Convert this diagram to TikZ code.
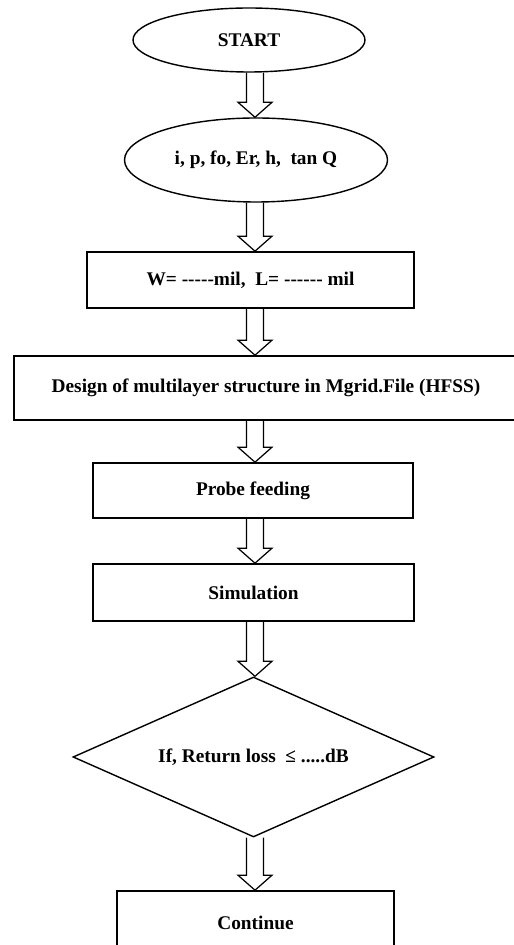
\documentclass[tikz,border=0pt]{standalone}
\usepackage{fontspec}
\setmainfont{Liberation Serif}
\usetikzlibrary{shapes,calc}

\newcommand{\hollowarrow}[2]{%
\draw[arrowline] let \p1=(#1.south), \p2=(#2.north) in
 (4.93,\y1) -- (4.93,\y2+0.3cm) -- (4.76,\y2+0.3cm) -- (5.1,\y2) -- (5.44,\y2+0.3cm) -- (5.27,\y2+0.3cm) -- (5.27,\y1);}

\begin{document}
\begin{tikzpicture}[
 every node/.style={font=\bfseries\fontsize{11}{13}\selectfont},
 boxnode/.style={draw,line width=0.9pt,rectangle,inner sep=0pt},
 ovalnode/.style={draw,line width=0.8pt,ellipse,inner sep=0pt},
 decisionnode/.style={draw,line width=0.8pt,diamond,shape aspect=2.25,inner sep=0pt},
 arrowline/.style={line width=0.7pt,line join=miter}]
\useasboundingbox (0,0) rectangle (10.28,18.9);
\node[ovalnode,minimum width=4.64cm,minimum height=1.28cm] (start) at (4.98,18.1) {START};
\node[ovalnode,minimum width=5.26cm,minimum height=1.68cm] (params) at (5.12,15.7) {i, p, fo, Er, h,\ \ tan Q};
\node[boxnode,minimum width=6.54cm,minimum height=1.12cm] (size) at (5.01,13.3) {W= -{}-{}-{}-{}-mil,\ \ L= -{}-{}-{}-{}-{}- mil};
\node[boxnode,minimum width=10.08cm,minimum height=1.28cm] (design) at (5.32,11.14) {Design of multilayer structure in Mgrid.File (HFSS)};
\node[boxnode,minimum width=6.4cm,minimum height=1.1cm] (probe) at (5.06,9.09) {Probe feeding};
\node[boxnode,minimum width=6.42cm,minimum height=1.14cm] (sim) at (5.07,7.05) {Simulation};
\node[decisionnode,minimum width=7.22cm,minimum height=3.2cm] (check) at (5.07,3.76) {If, Return loss\ \ ≤ .....dB};
\node[boxnode,minimum width=5.54cm,minimum height=1.28cm] (cont) at (5.11,0.44) {Continue};
\hollowarrow{start}{params}
\hollowarrow{params}{size}
\hollowarrow{size}{design}
\hollowarrow{design}{probe}
\hollowarrow{probe}{sim}
\hollowarrow{sim}{check}
\hollowarrow{check}{cont}
\end{tikzpicture}
\end{document}
